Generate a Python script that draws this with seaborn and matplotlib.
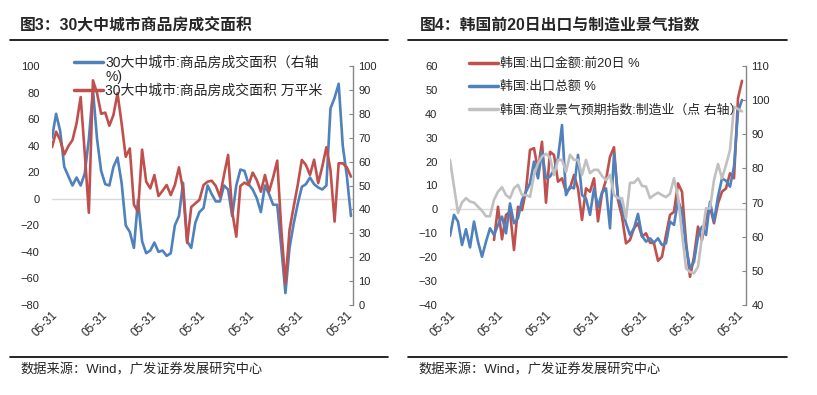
import numpy as np
import pandas as pd
import seaborn as sns
import matplotlib.pyplot as plt
from matplotlib.lines import Line2D

nan = np.nan

# 图3: 30大中城市商品房成交面积 (monthly)
area_yoy = [46, 64, 51, 24, 17, 10, 16, 10, 19, 45, 82, 45, 21, 11, 10, 24, 31, 12,
            -20, -25, -37, -1, -32, -41, -39, -33, -40, -39, -43, -41, -20, -13, 12,
            -32, -37, -18, -10, -7, 10, 3.5, -2, -2, 10, 7, -13, 10, 22, 21, 11, 7,
            0.5, -10, 10, 3.5, -4.5, -4.5, -37, -71, -37, -19, -4, 9, 11, 16, 11,
            8.5, 7, 10, 68, 76, 86.6, 40, 17, -13]
area_wan = [66, 72.5, 69, 63, 66.5, 69, 76, 87, 63.5, 38.6, 94, 88.6, 80, 80.5, 75,
            79.5, 88.6, 76, 62, 65.5, 42, 39, 65, 51.6, 48.8, 54.4, 45.6, 47.8, 50.2,
            46, 50.2, 57.6, 48, 26, 41, 42.5, 44, 50.2, 51.6, 52, 49.8, 45.3, 54.4,
            62.8, 39, 28.6, 49.8, 51.2, 50.2, 55.4, 52.3, 47.4, 54.4, 47.4, 53.4,
            60.4, 31.4, 9, 31.4, 41, 50.2, 60.7, 58.6, 54.4, 60.8, 51, 57.9, 66,
            56.5, 34.9, 59.3, 59.3, 57.6, 53.7]

# 图4: 韩国前20日出口与制造业景气指数
kr_export_20d = [nan] * 11 + [
    -12.8, 1.1, -12.5, -2.3, -1, -17, 1.1, -0.3, 8.1, 24.9, 25.6, 16.5, 28.3,
    2.8, 24.1, 22.8, 11.6, 13, 7.4, 8.8, 14.4, 8.8, -4.4, 8.8, 7.4, 13, -5,
    6.7, 12.3, 22, 26, 3.9, -3, -14.2, -12.8, -7.9, -5.8, -11.4, -10, -13.9,
    -14.2, -21.5, -19.8, -10.7, -2.3, -1, 10.9, 7.4, -13.5, -28.2, -19.8,
    -7.2, -12.8, -3, 1.1, -5.8, 2.5, 7.4, 8.8, 15.1, 13, 46.5, 53.8]
kr_export_total = [-11.1, -2.3, -5.1, -14.9, -8.3, -15.9, -5.1, -13.5, -19.8, -13.5,
                   -7.9, -10.7, -6.5, -3, -10, 2.5, -5.8, -3.7, 3.9, 7.4, 10.9, 20,
                   13, 24.1, 13, 13.7, 16.5, 21.4, 35.3, 6, 9.5, 8.8, 22.8, 6, 4.6,
                   -2.3, 8.8, 1.1, 7, 8.8, -7.9, 23.2, 5.3, 0.5, -5.8, -10.7, -7.9,
                   -1.9, -11.1, -13.5, -12.1, -13.9, -12.1, -14.9, -14.2, -5.1, -6.5,
                   3.9, -1, -15.6, -24.7, -21.9, -11.4, -7.2, -10.7, 3.2, -5.1, 5.3,
                   13, 12, 9.5, 17.9, 40.9, 45.8]
kr_bsi_mfg = [82.5, 74.7, 67, 70, 71.3, 70.3, 70, 68.8, 67.6, 66, 66, 70.8, 73.2, 74.5,
              72.2, 71.3, 74.2, 75.2, 72.2, 72.2, 71.7, 78.1, 81.5, 83.5, 84.3, 83.2,
              78.1, 82.5, 82.5, 79, 84, 82.5, 82.5, 78.1, 82.5, 78.6, 79.6, 79.6,
              77.8, 76.6, 78.1, 72.2, 71.3, 71.3, 65.4, 75.8, 75.8, 77.1, 74.9, 74.7,
              71.3, 72.2, 72.9, 72.2, 71.6, 72.6, 77.1, 71.7, 61, 50.7, 49.7, 49.3,
              51.2, 60, 68.3, 68.3, 76.6, 81.3, 77.1, 81, 85.4, 98.1, 97.4, 96.7]

tick_pos = [0, 12, 24, 36, 48, 60, 72]
tick_labels = ['05-31'] * len(tick_pos)

sns.set_style("white")
plt.rcParams['font.family'] = ['Liberation Sans', 'Noto Sans CJK SC', 'DejaVu Sans']

BLUE = '#4F81BD'
RED = '#C0504D'
GRAY = '#C0C0C0'
SPINE = '#868686'
LW = 1.9

W, H = 817, 395
fig = plt.figure(figsize=(W / 100, H / 100), dpi=100)


def box(x0, x1, y0, y1):
    # pixel box -> figure fraction
    return [x0 / W, (H - y1) / H, (x1 - x0) / W, (y1 - y0) / H]


def hline(x0, x1, y):
    fig.add_artist(Line2D([x0 / W, x1 / W], [1 - y / H, 1 - y / H],
                          color='black', lw=1.2, transform=fig.transFigure))


def style_axes(ax, ax2):
    for s in ax.spines.values():
        s.set_visible(False)
    for s in ['left', 'top', 'bottom']:
        ax2.spines[s].set_visible(False)
    ax2.spines['right'].set_color(SPINE)
    ax2.spines['right'].set_linewidth(1)
    ax.tick_params(axis='y', length=0, pad=9, labelsize=8)
    ax.tick_params(axis='x', length=0, pad=3, labelsize=8.5)
    ax2.tick_params(axis='y', direction='in', length=3, color=SPINE, pad=4, labelsize=8)
    ax.set_xticks(tick_pos)
    ax.set_xticklabels(tick_labels, rotation=45, ha='right', rotation_mode='anchor')
    ax.axhline(0, color='#D9D9D9', lw=1, zorder=0)
    ax.set_xlabel('')
    ax.set_ylabel('')
    ax2.set_ylabel('')


# ---------- 图3 ----------
x1 = np.arange(len(area_yoy))
ax = fig.add_axes(box(52, 353, 66, 305))
ax2 = ax.twinx()
sns.lineplot(x=x1, y=area_yoy, ax=ax, color=BLUE, lw=LW)
sns.lineplot(x=x1, y=area_wan, ax=ax2, color=RED, lw=LW)
ax.set_xlim(0, 73.5)
ax.set_ylim(-80, 100)
ax.set_yticks(range(-80, 101, 20))
ax2.set_ylim(0, 100)
ax2.set_yticks(range(0, 101, 10))
style_axes(ax, ax2)

handles = [Line2D([], [], color=BLUE, lw=2.5), Line2D([], [], lw=0),
           Line2D([], [], color=RED, lw=2.5)]
labels = ['30大中城市:商品房成交面积（右轴', '%)', '30大中城市:商品房成交面积 万平米']
fig.legend(handles, labels, loc='upper left', bbox_to_anchor=(74 / W, 1 - 56 / H),
           frameon=False, fontsize=10, handlelength=2.1, handletextpad=0.15,
           labelspacing=0.0, borderpad=0, borderaxespad=0)

fig.text(20 / W, 1 - 25 / H, '图3：30大中城市商品房成交面积', fontsize=11.4,
         weight='bold', va='center')
hline(10, 388, 40)
hline(10, 388, 357)
fig.text(20 / W, 1 - 370 / H, '数据来源：Wind，广发证券发展研究中心', fontsize=9.5, va='center')

# ---------- 图4 ----------
x2 = np.arange(len(kr_export_total))
bx = fig.add_axes(box(450, 746, 66, 305))
bx2 = bx.twinx()
sns.lineplot(x=x2, y=kr_export_20d, ax=bx, color=RED, lw=LW)
sns.lineplot(x=x2, y=kr_export_total, ax=bx, color=BLUE, lw=LW)
sns.lineplot(x=x2, y=kr_bsi_mfg, ax=bx2, color=GRAY, lw=LW)
bx.set_xlim(0, 74)
bx.set_ylim(-40, 60)
bx.set_yticks(range(-40, 61, 10))
bx2.set_ylim(40, 110)
bx2.set_yticks(range(40, 111, 10))
style_axes(bx, bx2)

handles = [Line2D([], [], color=RED, lw=2.5), Line2D([], [], color=BLUE, lw=2.5),
           Line2D([], [], color=GRAY, lw=2.5)]
labels = ['韩国:出口金额:前20日 %', '韩国:出口总额 %', '韩国:商业景气预期指数:制造业（点 右轴）']
fig.legend(handles, labels, loc='upper left', bbox_to_anchor=(469 / W, 1 - 58 / H),
           frameon=False, fontsize=9.3, handlelength=2.25, handletextpad=0.15,
           labelspacing=0.85, borderpad=0, borderaxespad=0)

fig.text(420 / W, 1 - 25 / H, '图4：韩国前20日出口与制造业景气指数', fontsize=11.4,
         weight='bold', va='center')
hline(408, 787, 40)
hline(408, 787, 357)
fig.text(418 / W, 1 - 370 / H, '数据来源：Wind，广发证券发展研究中心', fontsize=9.5, va='center')

fig.savefig('out.png', dpi=100)
